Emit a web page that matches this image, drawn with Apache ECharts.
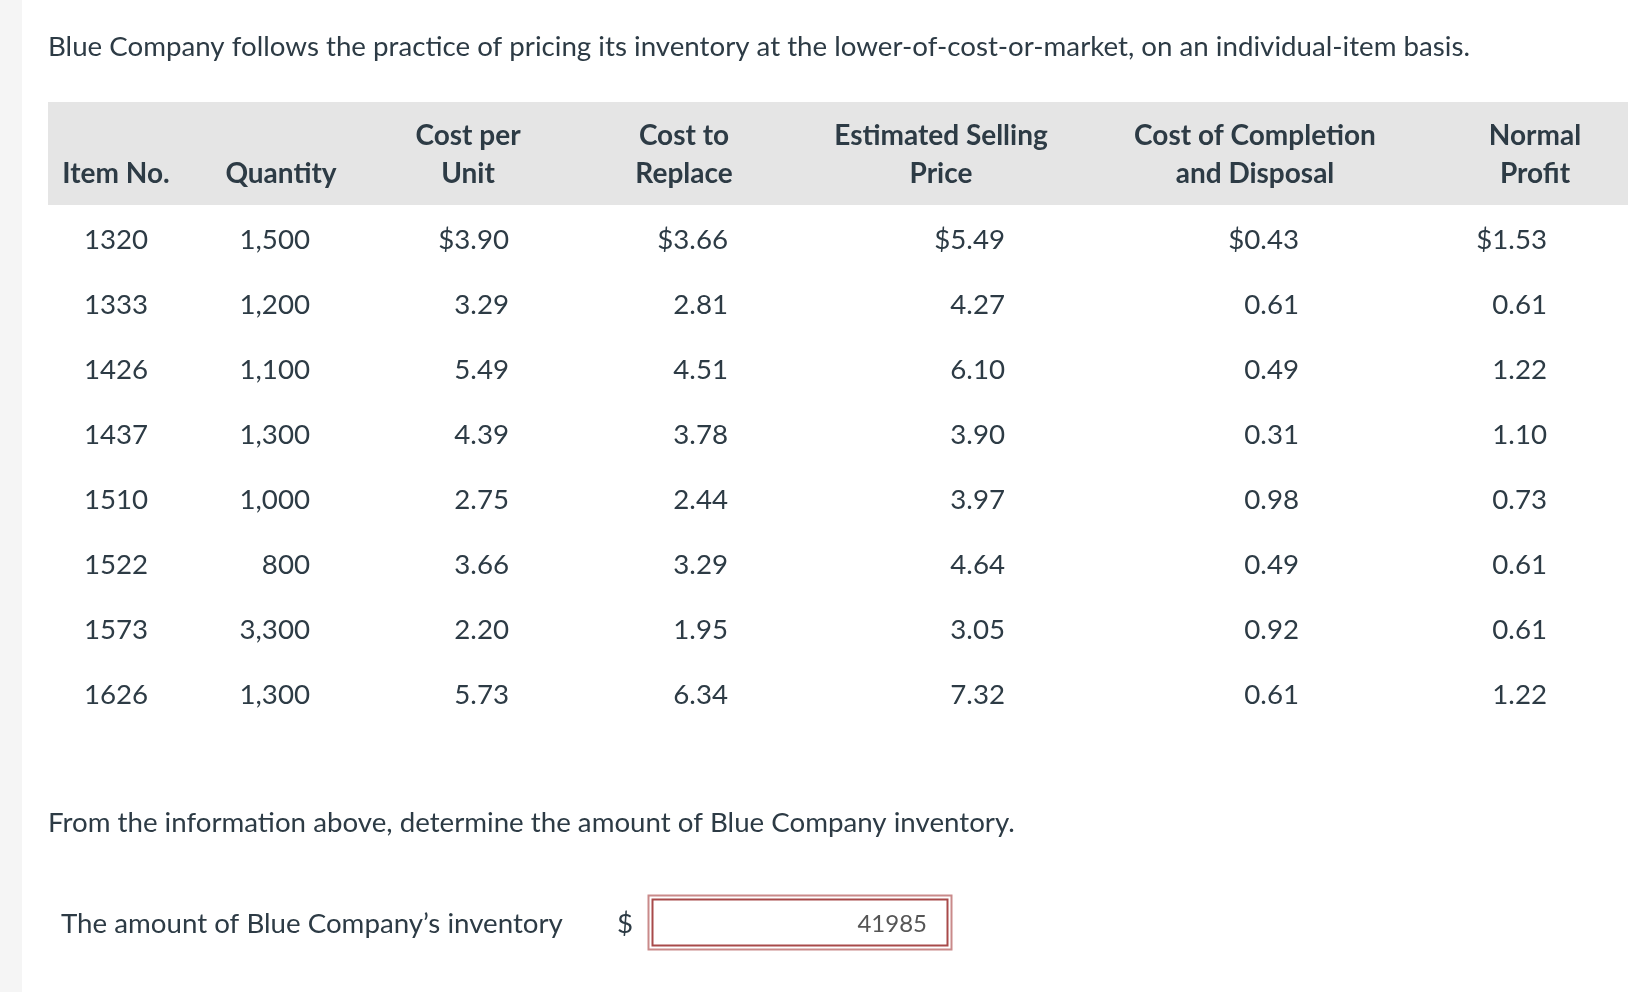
<!DOCTYPE html>
<html>
<head>
<meta charset="utf-8">
<script src="https://cdn.jsdelivr.net/npm/echarts@6/dist/echarts.min.js"></script>
<style>
  html, body { margin: 0; padding: 0; background: #ffffff; }
  #chart { width: 1650px; height: 992px; }
</style>
</head>
<body>
<div id="chart"></div>
<script>
// ---- Data ----
const itemNos = ['1320', '1333', '1426', '1437', '1510', '1522', '1573', '1626'];
const quantities = [1500, 1200, 1100, 1300, 1000, 800, 3300, 1300];
const costPerUnit = [3.90, 3.29, 5.49, 4.39, 2.75, 3.66, 2.20, 5.73];
const costToReplace = [3.66, 2.81, 4.51, 3.78, 2.44, 3.29, 1.95, 6.34];
const estSellingPrice = [5.49, 4.27, 6.10, 3.90, 3.97, 4.64, 3.05, 7.32];
const costOfCompletion = [0.43, 0.61, 0.49, 0.31, 0.98, 0.49, 0.92, 0.61];
const normalProfit = [1.53, 0.61, 1.22, 1.10, 0.73, 0.61, 0.61, 1.22];
const headerLine1 = ['', '', 'Cost per', 'Cost to', 'Estimated Selling', 'Cost of Completion', 'Normal'];
const headerLine2 = ['Item No.', 'Quantity', 'Unit', 'Replace', 'Price', 'and Disposal', 'Profit'];
const introText = 'Blue Company follows the practice of pricing its inventory at the lower-of-cost-or-market, on an individual-item basis.';
const questionText = 'From the information above, determine the amount of Blue Company inventory.';
const answerLabel = 'The amount of Blue Company\u2019s inventory';
const answerValue = '41985';

// ---- Layout / style (not data) ----
const TEXT = '#2d3b45';
const FONT = 'Lato, "Open Sans", sans-serif';
const FS = 27.7;
const HFS = 28;
const colAnchor = [116, 310, 509, 728, 1005, 1299, 1547];   // text anchor per column (px on x axis)
const colAlign  = ['center', 'right', 'right', 'right', 'right', 'right', 'right'];
const headCenter = [116, 281, 468, 684, 941, 1255, 1535];

const fmtQty = v => v.toLocaleString('en-US');
const fmtMoney = (v, first) => (first ? '$' : '') + v.toFixed(2);
const columns = [
  r => itemNos[r],
  r => fmtQty(quantities[r]),
  r => fmtMoney(costPerUnit[r], r === 0),
  r => fmtMoney(costToReplace[r], r === 0),
  r => fmtMoney(estSellingPrice[r], r === 0),
  r => fmtMoney(costOfCompletion[r], r === 0),
  r => fmtMoney(normalProfit[r], r === 0)
];

const cells = [];
itemNos.forEach((_, r) => {
  columns.forEach((fn, c) => cells.push([c, r, fn(r)]));
});

const graphics = [
  { type: 'rect', shape: { x: 0, y: 0, width: 22, height: 992 }, style: { fill: '#f5f5f5' }, silent: true },
  { type: 'rect', shape: { x: 48, y: 102, width: 1580, height: 103 }, style: { fill: '#e5e5e5' }, silent: true },
  { type: 'text', x: 48, y: 47.5, style: { text: introText, fill: TEXT, fontSize: FS, fontFamily: FONT, align: 'left', verticalAlign: 'middle' } },
  { type: 'text', x: 48, y: 823.5, style: { text: questionText, fill: TEXT, fontSize: FS, fontFamily: FONT, align: 'left', verticalAlign: 'middle' } },
  { type: 'text', x: 61, y: 924.5, style: { text: answerLabel, fill: TEXT, fontSize: FS, fontFamily: FONT, align: 'left', verticalAlign: 'middle' } },
  { type: 'text', x: 625, y: 924.5, style: { text: '$', fill: TEXT, fontSize: FS, fontFamily: FONT, align: 'center', verticalAlign: 'middle' } },
  { type: 'rect', shape: { x: 648.5, y: 895.5, width: 303, height: 54 }, style: { fill: '#ffffff', stroke: '#c98a8a', lineWidth: 2 } },
  { type: 'rect', shape: { x: 652.5, y: 899.5, width: 295, height: 46 }, style: { fill: '#ffffff', stroke: '#a84a4a', lineWidth: 2 } },
  { type: 'text', x: 927, y: 924, style: { text: answerValue, fill: '#555555', fontSize: 24, fontFamily: FONT, align: 'right', verticalAlign: 'middle' } }
];
headerLine1.forEach((t, i) => {
  if (t) graphics.push({ type: 'text', x: headCenter[i], y: 135.5, style: { text: t, fill: TEXT, fontSize: HFS, fontWeight: 'bold', fontFamily: FONT, align: 'center', verticalAlign: 'middle' } });
});
headerLine2.forEach((t, i) => {
  graphics.push({ type: 'text', x: headCenter[i], y: 174, style: { text: t, fill: TEXT, fontSize: HFS, fontWeight: 'bold', fontFamily: FONT, align: 'center', verticalAlign: 'middle' } });
});

const chart = echarts.init(document.getElementById('chart'), null, { renderer: 'canvas' });
chart.setOption({
  backgroundColor: '#ffffff',
  animation: false,
  grid: { left: 0, right: 0, top: 207.5, height: 520, containLabel: false },
  xAxis: { type: 'value', min: 0, max: 1650, show: false },
  yAxis: { type: 'category', data: itemNos, inverse: true, show: false, boundaryGap: true },
  graphic: graphics,
  series: [{
    type: 'custom',
    coordinateSystem: 'cartesian2d',
    data: cells,
    encode: { x: 0, y: 1 },
    renderItem: function (params, api) {
      const c = api.value(0);
      const r = api.value(1);
      const pt = api.coord([colAnchor[c], r]);
      return {
        type: 'text',
        x: pt[0],
        y: pt[1],
        style: {
          text: cells[params.dataIndex][2],
          fill: TEXT,
          fontSize: FS,
          fontFamily: FONT,
          align: colAlign[c],
          verticalAlign: 'middle'
        }
      };
    }
  }]
});
</script>
</body>
</html>
